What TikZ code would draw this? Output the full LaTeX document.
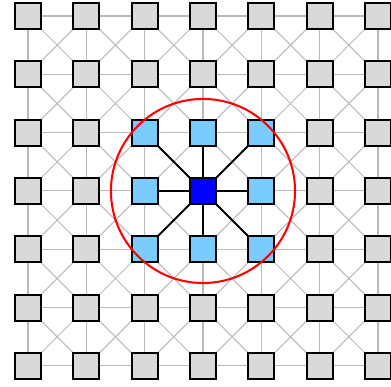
\documentclass[tikz,border=0pt]{standalone}
\usetikzlibrary{backgrounds}
\definecolor{cellgray}{RGB}{217,217,217}
\definecolor{nearblue}{RGB}{122,204,255}
\definecolor{linkgray}{RGB}{185,185,185}
\tikzset{cell/.style={draw,line width=0.9pt,minimum size=0.446cm,inner sep=0pt,fill=cellgray},
  near/.style={cell,fill=nearblue},
  link/.style={linkgray,line width=0.5pt},
  hop/.style={black,line width=1pt}}
\begin{document}
\begin{tikzpicture}
\useasboundingbox (-0.48,0.274) rectangle (6.223,-6.35);
\foreach \i in {0,...,6}
  \foreach \j in {0,...,6}
    \node[cell] (n-\i-\j) at (\i,-\j) {};
\foreach \i in {2,3,4}
  \foreach \j in {2,3,4}
    \node[near] (n-\i-\j) at (\i,-\j) {};
\node[cell,fill=blue] (n-3-3) at (3,-3) {};
\begin{scope}[on background layer]
\foreach \i in {0,...,5}
  \foreach \j in {0,...,5} {
    \pgfmathtruncatemacro{\ni}{\i+1}
    \pgfmathtruncatemacro{\nj}{\j+1}
    \draw[link] (n-\i-\j.center) -- (n-\ni-\nj.center);
    \draw[link] (n-\ni-\j.center) -- (n-\i-\nj.center);
  }
\foreach \i in {0,...,5}
  \foreach \j in {0,...,6} {
    \pgfmathtruncatemacro{\ni}{\i+1}
    \draw[link] (n-\i-\j.center) -- (n-\ni-\j.center);
    \draw[link] (n-\j-\i.center) -- (n-\j-\ni.center);
  }
\foreach \i in {2,3,4}
  \foreach \j in {2,3,4}
    \draw[hop] (n-3-3.center) -- (n-\i-\j.center);
\end{scope}
\draw[red,line width=1pt] (n-3-3.center) circle (1.578);
\end{tikzpicture}
\end{document}
